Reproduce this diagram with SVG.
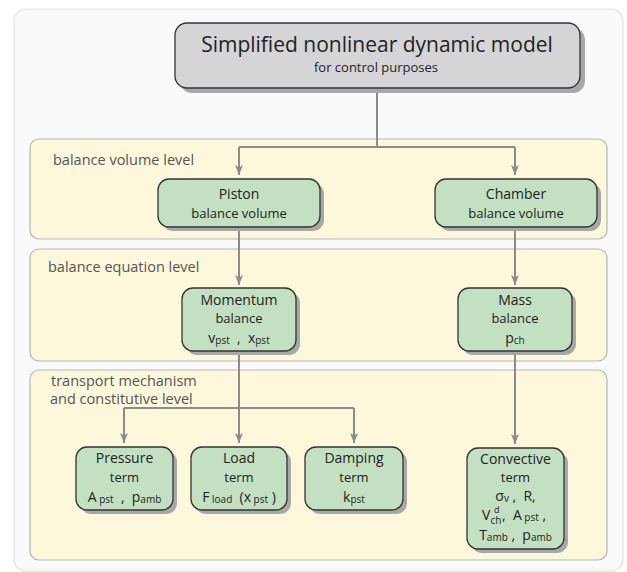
<svg xmlns="http://www.w3.org/2000/svg" width="627" height="572" viewBox="0 0 627 572">
  <style>
    text { font-family: "Open Sans", "DejaVu Sans", sans-serif; fill: #222; }
    .frame { fill: #fafafa; stroke: #e2e2e2; stroke-width: 1.2; }
    .panel { fill: #fdf8dc; stroke: #b5b5b5; stroke-width: 1.2; }
    .plabel { font-size: 14.5px; fill: #555; }
    .shadow { fill: #a8a8a8; }
    .node { fill: #c3e0c3; stroke: #333; stroke-width: 1.3; }
    .top { fill: #d5d5d8; stroke: #333; stroke-width: 1.3; }
    .t1 { font-size: 14px; text-anchor: middle; }
    .t2 { font-size: 13px; text-anchor: middle; }
    .t3 { font-size: 14px; text-anchor: middle; white-space: pre; }
    .sub { font-size: 10px; }
    .sup { font-size: 9px; }
    .conn { fill: none; stroke: #8c8c8c; stroke-width: 2; }
    .arr { stroke: #8c8c8c; stroke-width: 2; fill: none; marker-end: url(#arrow); }
  </style>
  <defs>
    <marker id="arrow" viewBox="0 0 10 8" refX="10" refY="4" markerWidth="10" markerHeight="8" orient="auto" markerUnits="userSpaceOnUse">
      <path d="M0,0 L10,4 L0,8 L2.5,4 z" fill="#8c8c8c"/>
    </marker>
  </defs>

  <!-- outer frame -->
  <rect class="frame" x="14" y="9" width="609" height="562" rx="12"/>

  <!-- level panels -->
  <g id="level-volume">
    <rect class="panel" x="30" y="139" width="577" height="100" rx="9"/>
    <text class="plabel" x="53" y="165">balance volume level</text>
  </g>
  <g id="level-equation">
    <rect class="panel" x="30" y="249" width="577" height="112" rx="9"/>
    <text class="plabel" x="48" y="272">balance equation level</text>
  </g>
  <g id="level-transport">
    <rect class="panel" x="30" y="370" width="577" height="190" rx="9"/>
    <text class="plabel" x="51" y="386">transport mechanism</text>
    <text class="plabel" x="50" y="404">and constitutive level</text>
  </g>

  <!-- connectors -->
  <g id="connectors">
    <path class="conn" d="M377,88 V147 M239,147 H515"/>
    <path class="arr" d="M239,147 V175"/>
    <path class="arr" d="M515,147 V175"/>
    <path class="arr" d="M239,227 V285"/>
    <path class="arr" d="M515,227 V285"/>
    <path class="arr" d="M239,351 V443"/>
    <path class="conn" d="M124,408 H354"/>
    <path class="arr" d="M124,408 V443"/>
    <path class="arr" d="M354,408 V443"/>
    <path class="arr" d="M515,351 V444"/>
  </g>

  <!-- top-level model -->
  <g id="model">
    <rect class="shadow" x="180" y="28" width="405" height="65" rx="12"/>
    <rect class="top" x="175" y="23" width="405" height="65" rx="12"/>
    <text x="377" y="52" style="font-size:21px;text-anchor:middle">Simplified nonlinear dynamic model</text>
    <text x="376" y="72" style="font-size:13px;text-anchor:middle">for control purposes</text>
  </g>

  <g id="piston">
    <rect class="shadow" x="162" y="183" width="162" height="48" rx="11"/>
    <rect class="node" x="158" y="179" width="162" height="48" rx="11"/>
    <text class="t1" x="239" y="199">Piston</text>
    <text class="t2" x="239" y="218">balance volume</text>
  </g>

  <g id="chamber">
    <rect class="shadow" x="439" y="183" width="162" height="48" rx="11"/>
    <rect class="node" x="435" y="179" width="162" height="48" rx="11"/>
    <text class="t1" x="516" y="199">Chamber</text>
    <text class="t2" x="516" y="218">balance volume</text>
  </g>

  <g id="momentum">
    <rect class="shadow" x="186" y="292" width="114" height="63" rx="11"/>
    <rect class="node" x="182" y="288" width="114" height="63" rx="11"/>
    <text class="t1" x="239" y="305">Momentum</text>
    <text class="t2" x="239" y="323">balance</text>
    <text class="t3" x="239" y="343">v<tspan class="sub" dy="1">pst</tspan><tspan dy="-1">  ,  x</tspan><tspan class="sub" dy="1">pst</tspan></text>
  </g>

  <g id="mass">
    <rect class="shadow" x="462" y="292" width="114" height="63" rx="11"/>
    <rect class="node" x="458" y="288" width="114" height="63" rx="11"/>
    <text class="t1" x="515" y="305">Mass</text>
    <text class="t2" x="515" y="323">balance</text>
    <text class="t3" x="515" y="343">p<tspan class="sub" dy="1">ch</tspan></text>
  </g>

  <g id="pressure">
    <rect class="shadow" x="80" y="451" width="97" height="63" rx="11"/>
    <rect class="node" x="76" y="447" width="97" height="63" rx="11"/>
    <text class="t1" x="124.5" y="463">Pressure</text>
    <text class="t2" x="124.5" y="482">term</text>
    <text class="t3" x="124.5" y="502">A<tspan class="sub" dy="1"> pst</tspan><tspan dy="-1">  ,  p</tspan><tspan class="sub" dy="1">amb</tspan></text>
  </g>

  <g id="load">
    <rect class="shadow" x="195" y="451" width="96" height="63" rx="11"/>
    <rect class="node" x="191" y="447" width="96" height="63" rx="11"/>
    <text class="t1" x="239" y="463">Load</text>
    <text class="t2" x="239" y="482">term</text>
    <text class="t3" x="239" y="502">F<tspan class="sub" dy="1"> load</tspan><tspan dy="-1">  (x</tspan><tspan class="sub" dy="1"> pst</tspan><tspan dy="-1"> )</tspan></text>
  </g>

  <g id="damping">
    <rect class="shadow" x="309" y="451" width="98" height="63" rx="11"/>
    <rect class="node" x="305" y="447" width="98" height="63" rx="11"/>
    <text class="t1" x="354" y="463">Damping</text>
    <text class="t2" x="354" y="482">term</text>
    <text class="t3" x="354" y="502">k<tspan class="sub" dy="1">pst</tspan></text>
  </g>

  <g id="convective">
    <rect class="shadow" x="471" y="452" width="97" height="101" rx="11"/>
    <rect class="node" x="467" y="448" width="97" height="101" rx="11"/>
    <text class="t1" x="515.5" y="464">Convective</text>
    <text class="t2" x="515.5" y="482">term</text>
    <text class="t3" x="515.5" y="501">σ<tspan class="sub" dy="1">v</tspan><tspan dy="-1"> ,  R,</tspan></text>
    <text class="t3" x="482" y="520" style="text-anchor:start">V</text>
    <text class="sup" x="494" y="513">d</text>
    <text class="sub" x="490.5" y="524">ch</text>
    <text class="t3" x="502" y="520" style="text-anchor:start">,  A<tspan class="sub" dy="1"> pst</tspan><tspan dy="-1"> ,</tspan></text>
    <text class="t3" x="515.5" y="540">T<tspan class="sub" dy="1">amb</tspan><tspan dy="-1"> ,  p</tspan><tspan class="sub" dy="1">amb</tspan></text>
  </g>
</svg>
